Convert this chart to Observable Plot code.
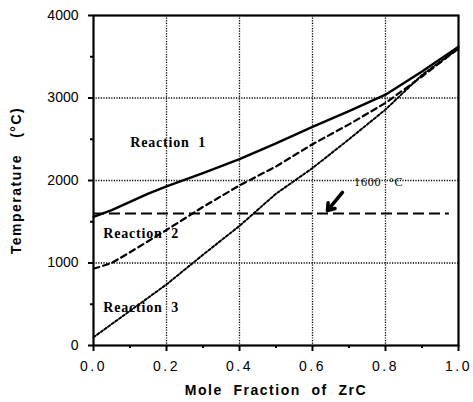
<!DOCTYPE html>
<html>
<head>
<meta charset="utf-8">
<script src="https://cdn.jsdelivr.net/npm/d3@7"></script>
<script src="https://cdn.jsdelivr.net/npm/@observablehq/plot@0.6"></script>
<style>
  html, body { margin: 0; padding: 0; background: #fff; }
  svg { display: block; }
</style>
</head>
<body>
<div id="chart"></div>
<script>
// Data
const r1x = [0, 0.05, 0.1, 0.15, 0.2, 0.3, 0.4, 0.5, 0.6, 0.7, 0.8, 0.9, 1.0];
const reaction1 = [1560, 1640, 1740, 1840, 1930, 2090, 2260, 2450, 2650, 2840, 3040, 3320, 3620];
const r2x = [0, 0.05, 0.1, 0.2, 0.3, 0.4, 0.5, 0.6, 0.7, 0.8, 0.9, 1.0];
const reaction2 = [930, 1000, 1130, 1400, 1680, 1940, 2170, 2440, 2680, 2940, 3260, 3600];
const r3x = [0, 0.1, 0.2, 0.3, 0.4, 0.5, 0.6, 0.7, 0.8, 0.9, 1.0];
const reaction3 = [100, 420, 740, 1100, 1450, 1840, 2150, 2500, 2860, 3280, 3600];
const limitTemp = 1600;
const xTicks = [0, 0.2, 0.4, 0.6, 0.8, 1.0];
const xMinor = [0.1, 0.3, 0.5, 0.7, 0.9];
const yTicks = [0, 1000, 2000, 3000, 4000];
const yMinor = [500, 1500, 2500, 3500];
const reactionText = ["Reaction  1", "Reaction  2", "Reaction  3"];
const reactionX = [0.101, 0.027, 0.027];
const reactionY = [2460, 1357, 460];
const limitText = "1600  °C";
const limitX = 0.714;
const limitY = 1975;

const toPts = (xs, ys) => xs.map((x, i) => ({x, y: ys[i]}));
const reactionLabels = reactionText.map((t, i) => ({t, x: reactionX[i], y: reactionY[i]}));

const chart = Plot.plot({
  width: 473,
  height: 402,
  marginLeft: 93,
  marginRight: 15,
  marginTop: 15,
  marginBottom: 57,
  style: {fontFamily: "Liberation Sans, Arial, sans-serif", background: "#fff", color: "#000"},
  x: {domain: [0, 1]},
  y: {domain: [0, 4000]},
  marks: [
    Plot.gridX(xTicks.slice(1, -1), {stroke: "#000", strokeOpacity: 1, strokeWidth: 1.3, strokeDasharray: "1.2,1.4"}),
    Plot.gridY(yTicks.slice(1, -1), {stroke: "#000", strokeOpacity: 1, strokeWidth: 1.3, strokeDasharray: "1.2,1.4"}),
    Plot.frame({stroke: "#000", strokeWidth: 2.2}),
    Plot.axisX(xTicks, {tickSize: 6, tickPadding: 10, tickFormat: d3.format(".1f"), fontSize: 14, strokeWidth: 2,
      label: "Mole  Fraction  of  ZrC", labelAnchor: "center", labelArrow: "none", labelOffset: 49}),
    Plot.axisX(xMinor, {tickSize: 3, tickFormat: () => "", strokeWidth: 2, label: null}),
    Plot.axisY(yTicks, {tickSize: 5, tickPadding: 10, tickFormat: d3.format("d"), fontSize: 14, strokeWidth: 2,
      label: "Temperature   (°C)", labelAnchor: "center", labelArrow: "none", labelOffset: 82}),
    Plot.axisY(yMinor, {tickSize: 3, tickFormat: () => "", strokeWidth: 2, label: null}),
    Plot.ruleY([limitTemp], {x1: 0, x2: 0.975, stroke: "#000", strokeWidth: 2.2, strokeDasharray: "11,5"}),
    Plot.line(toPts(r3x, reaction3), {x: "x", y: "y", stroke: "#000", strokeWidth: 2, strokeDasharray: "2.5,2"}),
    Plot.line(toPts(r2x, reaction2), {x: "x", y: "y", stroke: "#000", strokeWidth: 2.2, strokeDasharray: "6,4"}),
    Plot.line(toPts(r1x, reaction1), {x: "x", y: "y", stroke: "#000", strokeWidth: 2.4}),
    Plot.arrow([{x1: 0.682, y1: 1855, x2: 0.641, y2: 1636}], {x1: "x1", y1: "y1", x2: "x2", y2: "y2", stroke: "#000", strokeWidth: 3.5, headLength: 11, headAngle: 70}),
    Plot.text(reactionLabels, {x: "x", y: "y", text: "t", textAnchor: "start", fontFamily: "Liberation Serif, Times New Roman, serif", fontWeight: "bold", fontSize: 14, fill: "#000"}),
    Plot.text([limitText], {x: limitX, y: limitY, text: (d) => d, textAnchor: "start", fontFamily: "Liberation Serif, Times New Roman, serif", fontSize: 12, fill: "#000"})
  ]
});
document.getElementById("chart").appendChild(chart);

// Style the axis titles (bold, letter-spaced) and tick labels
const svg = d3.select(chart);
svg.selectAll('[aria-label="x-axis label"] text, [aria-label="y-axis label"] text')
  .attr("font-weight", "bold").attr("font-size", 14).attr("letter-spacing", "1.5px");
svg.selectAll('[aria-label="x-axis tick label"] text').attr("letter-spacing", "2.5px");
svg.selectAll('[aria-label="text"] text').attr("letter-spacing", "0.8px");
</script>
</body>
</html>
